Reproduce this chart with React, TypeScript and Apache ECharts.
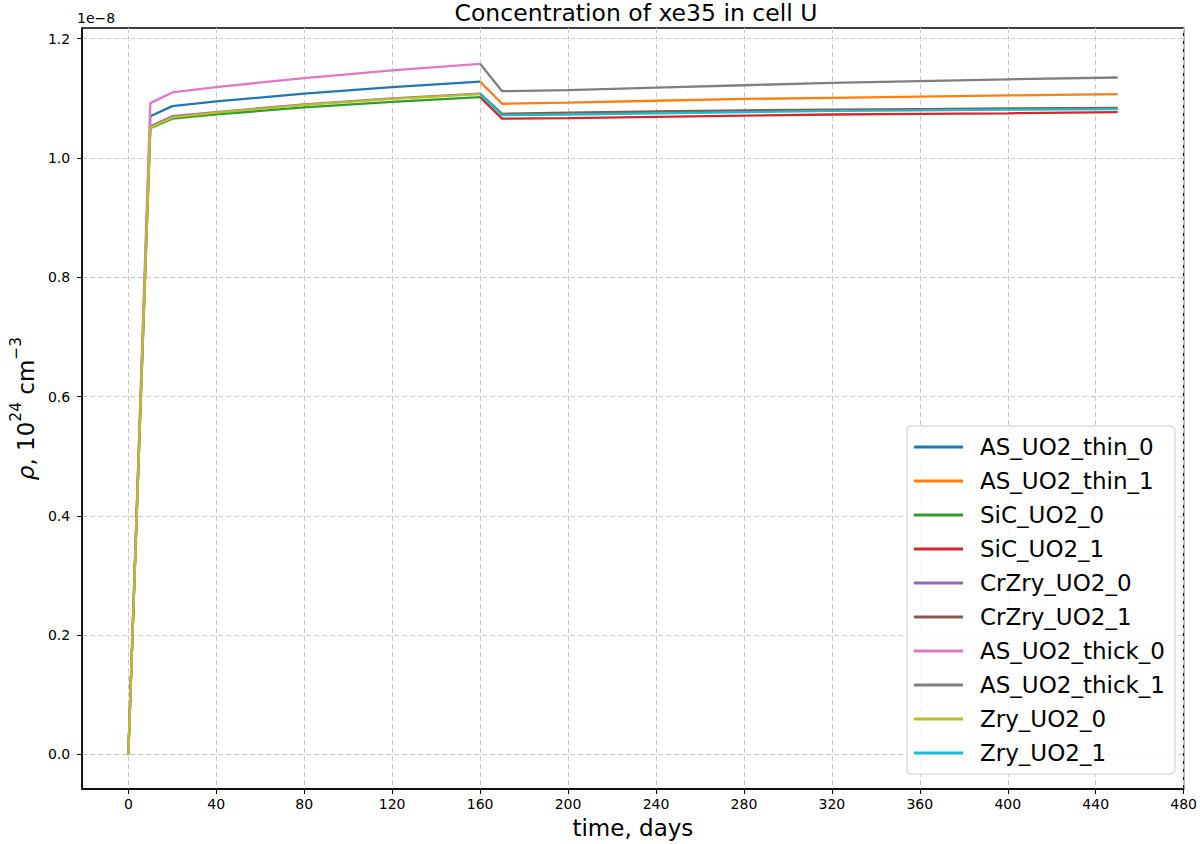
import React, { useEffect, useRef } from "react";
import * as echarts from "echarts";

const seriesNames = [
  "AS_UO2_thin_0",
  "AS_UO2_thin_1",
  "SiC_UO2_0",
  "SiC_UO2_1",
  "CrZry_UO2_0",
  "CrZry_UO2_1",
  "AS_UO2_thick_0",
  "AS_UO2_thick_1",
  "Zry_UO2_0",
  "Zry_UO2_1",
];
const colors = [
  "#1f77b4",
  "#ff7f0e",
  "#2ca02c",
  "#d62728",
  "#9467bd",
  "#8c564b",
  "#e377c2",
  "#7f7f7f",
  "#bcbd22",
  "#17becf",
];

// time points (days)
const timesCycle0 = [0, 10, 20, 40, 80, 120, 160];
const timesCycle1 = [160, 170, 200, 240, 280, 320, 360, 400, 450];

// concentrations in units of 1e-8
const asThin0 = [0, 1.07, 1.087, 1.095, 1.108, 1.119, 1.128];
const asThin1 = [1.128, 1.091, 1.093, 1.096, 1.099, 1.101, 1.103, 1.105, 1.107];
const sic0 = [0, 1.05, 1.066, 1.073, 1.085, 1.094, 1.102];
const sic1 = [1.102, 1.066, 1.067, 1.069, 1.071, 1.073, 1.074, 1.075, 1.077];
const crzry0 = [0, 1.053, 1.07, 1.077, 1.09, 1.1, 1.108];
const crzry1 = [1.108, 1.074, 1.076, 1.078, 1.08, 1.081, 1.082, 1.083, 1.084];
const asThick0 = [0, 1.092, 1.11, 1.119, 1.134, 1.147, 1.158];
const asThick1 = [1.158, 1.112, 1.114, 1.118, 1.122, 1.126, 1.129, 1.132, 1.135];
const zry0 = [0, 1.051, 1.068, 1.076, 1.089, 1.099, 1.107];
const zry1 = [1.107, 1.072, 1.073, 1.075, 1.077, 1.079, 1.08, 1.081, 1.082];

const xTicks = [0, 40, 80, 120, 160, 200, 240, 280, 320, 360, 400, 440, 480];
const yTicks = [0, 0.2, 0.4, 0.6, 0.8, 1.0, 1.2];

const seriesValues = [asThin0, asThin1, sic0, sic1, crzry0, crzry1, asThick0, asThick1, zry0, zry1];
const seriesTimes = [
  timesCycle0,
  timesCycle1,
  timesCycle0,
  timesCycle1,
  timesCycle0,
  timesCycle1,
  timesCycle0,
  timesCycle1,
  timesCycle0,
  timesCycle1,
];

const FONT = "DejaVu Sans";

function isMultiple(v: number, step: number) {
  const r = v / step;
  return Math.abs(r - Math.round(r)) < 1e-6;
}

export default function App() {
  const ref = useRef<HTMLDivElement>(null);
  useEffect(() => {
    if (!ref.current) return;
    const chart = echarts.init(ref.current, null, { renderer: "svg" });
    const series = seriesNames.map((name, i) => ({
      name,
      type: "line",
      data: seriesTimes[i].map((t, j) => [t, seriesValues[i][j]]),
      showSymbol: false,
      symbol: "none",
      lineStyle: { width: 2.3, color: colors[i] },
      itemStyle: { color: colors[i] },
      z: 2 + i,
    }));
    chart.setOption({
      animation: false,
      backgroundColor: "#ffffff",
      title: {
        text: "Concentration of xe35 in cell U",
        left: 631,
        textAlign: "center",
        top: -4,
        textStyle: { fontFamily: FONT, fontSize: 23.5, fontWeight: "normal", color: "#000" },
      },
      grid: {
        left: 77,
        right: 15,
        top: 28,
        bottom: 35,
        show: true,
        borderColor: "#000",
        borderWidth: 1.3,
        containLabel: false,
      },
      legend: {
        data: seriesNames,
        orient: "vertical",
        left: 907,
        top: 426,
        padding: [9, 10, 9, 7],
        itemGap: 10,
        itemWidth: 49,
        itemHeight: 3,
        icon: "rect",
        backgroundColor: "rgba(255,255,255,0.85)",
        borderColor: "#cccccc",
        borderWidth: 1,
        borderRadius: 4,
        textStyle: {
          fontFamily: FONT,
          fontSize: 23,
          lineHeight: 24,
          color: "#000",
          padding: [0, 0, 0, 12],
        },
      },
      graphic: [
        {
          type: "text",
          left: 77,
          top: 11,
          style: { text: "1e\u22128", fontFamily: FONT, fontSize: 14, fill: "#000" },
        },
      ],
      xAxis: {
        type: "value",
        min: -21,
        max: 480,
        minInterval: 40,
        maxInterval: 40,
        name: "time, days",
        nameLocation: "middle",
        nameGap: 27,
        nameTextStyle: { fontFamily: FONT, fontSize: 23, color: "#000" },
        axisLine: { show: true, onZero: false, lineStyle: { color: "#000", width: 1.5 } },
        axisTick: {
          show: true,
          length: 5,
          customValues: xTicks,
          lineStyle: { color: "#000", width: 1 },
        },
        axisLabel: {
          customValues: xTicks,
          margin: 8,
          fontFamily: FONT,
          fontSize: 14,
          color: "#000",
          formatter: (v: number) => (isMultiple(v, 40) ? String(Math.round(v)) : ""),
        },
        splitLine: {
          show: true,
          lineStyle: { color: "#c8c8c8", type: [5, 3], width: 1 },
        },
      },
      yAxis: {
        type: "value",
        min: -0.058,
        max: 1.218,
        minInterval: 0.2,
        maxInterval: 0.2,
        name: "{r|\u03C1}{n|, 10}{s|24}{n| cm}{s|\u22123}",
        nameLocation: "middle",
        nameGap: 42,
        nameRotate: 90,
        nameTextStyle: {
          fontFamily: FONT,
          color: "#000",
          rich: {
            r: { fontFamily: FONT, fontSize: 23, fontStyle: "italic", lineHeight: 29, verticalAlign: "bottom" },
            n: { fontFamily: FONT, fontSize: 23, lineHeight: 29, verticalAlign: "bottom" },
            s: { fontFamily: FONT, fontSize: 15.5, lineHeight: 15, verticalAlign: "top" },
          },
        },
        axisLine: { show: true, onZero: false, lineStyle: { color: "#000", width: 1.5 } },
        axisTick: {
          show: true,
          length: 5,
          customValues: yTicks,
          lineStyle: { color: "#000", width: 1 },
        },
        axisLabel: {
          customValues: yTicks,
          margin: 12,
          fontFamily: FONT,
          fontSize: 14,
          color: "#000",
          formatter: (v: number) => (isMultiple(v, 0.2) ? v.toFixed(1) : ""),
        },
        splitLine: {
          show: true,
          lineStyle: { color: "#c8c8c8", type: [5, 3], width: 1 },
        },
      },
      series,
    });
    return () => chart.dispose();
  }, []);
  return (
    <div
      ref={ref}
      style={{ position: "absolute", left: 0, top: 0, width: 1200, height: 844 }}
    />
  );
}
